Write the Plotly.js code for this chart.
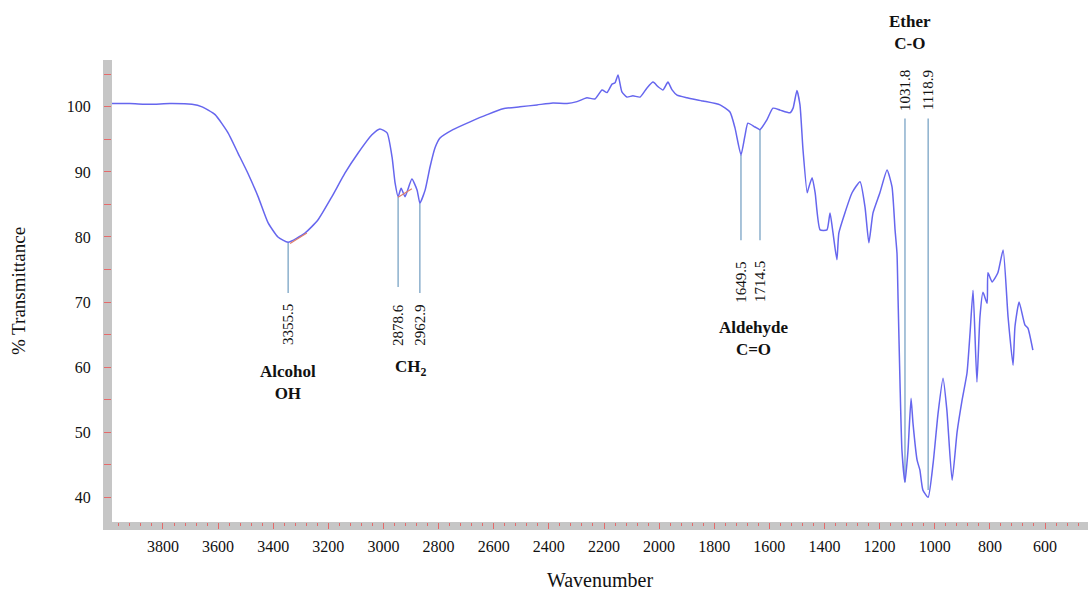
<!DOCTYPE html>
<html><head><meta charset="utf-8">
<script src="https://cdn.plot.ly/plotly-3.0.1.min.js"></script>
<style>html,body{margin:0;padding:0;background:#fff}#chart{width:1088px;height:591px}</style>
</head><body><div id="chart"></div>
<script>
// IR spectrum
const wavenumber = [3985,3920,3847,3775,3695,3658,3611,3564,3528,3492,3455,3419,3383,3346,3285,3238,3187,3140,3092,3042,3013,2987,2969,2958,2947,2936,2922,2897,2878,2868,2849,2831,2813,2795,2748,2686,2624,2566,2505,2443,2385,2334,2298,2262,2233,2207,2189,2171,2160,2149,2135,2117,2095,2069,2044,2022,2004,1986,1968,1953,1935,1899,1841,1779,1743,1725,1703,1688,1678,1652,1634,1609,1587,1561,1525,1514,1500,1489,1478,1463,1460,1445,1434,1416,1391,1380,1369,1355,1348,1326,1300,1271,1253,1239,1224,1199,1173,1155,1144,1137,1133,1126,1119,1108,1097,1086,1079,1064,1054,1043,1024,1006,988,970,956,937,919,901,883,872,861,847,836,825,810,807,792,771,752,734,716,709,694,673,662,644];
const transmittance = [100.5,100.5,100.4,100.5,100.4,100.0,98.8,96.0,92.9,89.8,86.2,82.2,80.0,79.2,80.6,82.6,86.2,89.8,92.9,95.7,96.6,96.0,92.3,88.3,86.2,87.5,86.2,88.9,87.2,85.2,87.2,90.8,93.7,95.2,96.5,97.7,98.8,99.7,100.0,100.3,100.6,100.5,100.8,101.4,101.2,102.6,102.2,103.5,103.7,104.9,102.3,101.5,101.7,101.5,102.9,103.8,103.1,102.6,103.8,102.6,101.8,101.4,100.9,100.3,99.2,96.8,92.6,95.7,97.5,96.9,96.5,98.0,99.8,99.5,99.1,99.8,102.5,100.3,93.4,86.8,87.2,89.1,86.8,81.1,81.1,83.7,80.6,76.5,80.6,83.7,86.8,88.5,84.6,79.1,83.7,86.8,90.3,87.7,81.1,77.5,70.3,57.5,47.2,42.3,47.2,55.2,51.4,45.7,44.2,41.1,40.0,45.2,52.9,58.3,53.4,42.6,50.0,54.9,59.1,65.2,71.8,57.7,67.7,71.5,69.8,74.5,73.1,74.5,78.0,67.7,60.3,66.2,70.0,66.5,66.0,62.6];

// small baseline segments drawn by the instrument software
const baselineX = [3339, 3278, null, 2947, 2897];
const baselineY = [79.0, 80.6, null, 86.1, 87.4];

// peak marker lines and their labels (as printed in the figure)
const peakLineX = [3346, 2947, 2868, 1703, 1634, 1108, 1024];
const peakLineTop = [79.2, 86.2, 85.2, 92.6, 96.5, 98.2, 98.2];
const peakLineBottom = [71.4, 72.3, 71.4, 79.5, 79.5, 42.3, 41.1];
const peakLabels = ["3355.5", "2878.6", "2962.9", "1649.5", "1714.5", "1031.8", "1118.9"];
const peakLabelY = [66.5, 66.5, 66.5, 73.1, 73.1, 102.6, 102.6];

// functional group labels
const groupNames = ["Alcohol<br>OH", "CH<sub>2</sub>", "Aldehyde<br>C=O", "Ether<br>C-O"];
const groupX = [3346, 2900, 1659, 1090];
const groupY = [57.6, 59.8, 64.4, 111.5];

const xRange = [3985, 444];
const yRange = [36.2, 107.2];

const serif = '"Liberation Serif", "Times New Roman", Times, serif';
const tickRed = '#e46a6a';

const lineXs = [], lineYs = [];
peakLineX.forEach((x, i) => {
  lineXs.push(x, x, null);
  lineYs.push(peakLineTop[i], peakLineBottom[i], null);
});

const traces = [
  {x: lineXs, y: lineYs, mode: 'lines', line: {color: '#6f9cc0', width: 1.2}, hoverinfo: 'skip'},
  {x: wavenumber, y: transmittance, mode: 'lines', line: {color: '#6666ee', width: 1.5, shape: 'spline', smoothing: 0.5}},
  {x: baselineX, y: baselineY, mode: 'lines', line: {color: '#e0806a', width: 1.2}, hoverinfo: 'skip'}
];

const annotations = [];
peakLabels.forEach((t, i) => {
  annotations.push({x: peakLineX[i], y: peakLabelY[i], xref: 'x', yref: 'y', text: t, showarrow: false,
    textangle: -90, xanchor: 'center', yanchor: 'middle',
    font: {family: serif, size: 15, color: '#111'}});
});
groupNames.forEach((t, i) => {
  const inside = groupY[i] <= yRange[1];
  annotations.push({x: groupX[i], xref: 'x',
    y: inside ? groupY[i] : (groupY[i] - yRange[0]) / (yRange[1] - yRange[0]),
    yref: inside ? 'y' : 'paper', xanchor: 'center', yanchor: 'middle',
    text: '<b>' + t + '</b>', showarrow: false,
    font: {family: serif, size: 17, color: '#111'}});
});

const layout = {
  width: 1088, height: 591,
  margin: {l: 112, r: 0, t: 60, b: 69},
  paper_bgcolor: '#fff', plot_bgcolor: '#fff',
  showlegend: false,
  font: {family: serif, color: '#111'},
  xaxis: {
    range: xRange, showgrid: false, zeroline: false, showline: false,
    ticks: 'outside', ticklen: 6, tickwidth: 1, tickcolor: tickRed,
    tick0: 0, dtick: 200, tickfont: {family: serif, size: 16, color: '#111'}, ticklabelstandoff: 4,
    minor: {dtick: 40, ticks: 'outside', ticklen: 3, tickwidth: 1, tickcolor: tickRed},
    title: {text: 'Wavenumber', font: {family: serif, size: 20, color: '#111'}}
  },
  yaxis: {
    range: yRange, showgrid: false, zeroline: false, showline: false,
    ticks: 'outside', ticklen: 7, tickwidth: 1, tickcolor: tickRed,
    tick0: 0, dtick: 10, tickfont: {family: serif, size: 16, color: '#111'}, ticklabelstandoff: 10,
    minor: {dtick: 5, ticks: 'outside', ticklen: 7, tickwidth: 1, tickcolor: tickRed},
    automargin: true,
    title: {text: '% Transmittance', standoff: 36, font: {family: serif, size: 19, color: '#111'}}
  },
  shapes: [
    {type: 'rect', xref: 'paper', yref: 'paper', x0: -9/976, x1: 0, y0: -8/462, y1: 1,
     fillcolor: '#c6c6c6', line: {width: 0}, layer: 'below'},
    {type: 'rect', xref: 'paper', yref: 'paper', x0: -9/976, x1: 1, y0: -8/462, y1: 0,
     fillcolor: '#c6c6c6', line: {width: 0}, layer: 'below'}
  ],
  annotations: annotations
};

Plotly.newPlot('chart', traces, layout, {displayModeBar: false, staticPlot: true});
</script>
</body></html>
